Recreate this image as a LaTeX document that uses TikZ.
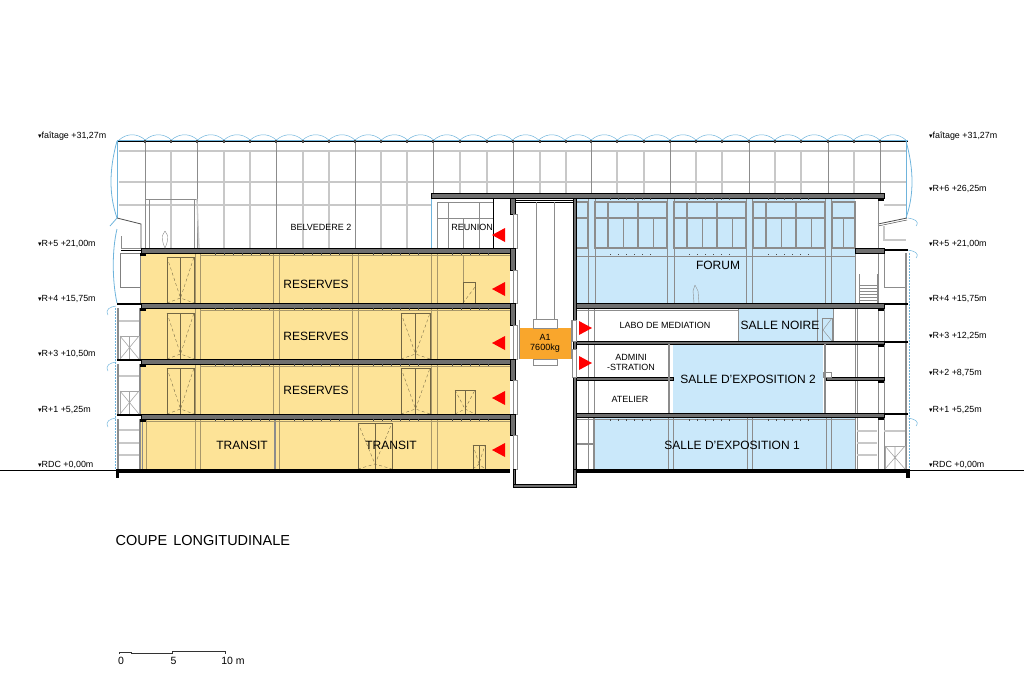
\documentclass[tikz,border=0pt]{standalone}
\usepackage{fontspec}
\setmainfont{Liberation Sans}
\newfontfamily\symfont{DejaVu Sans}
\definecolor{reserve}{HTML}{FDE397}
\definecolor{expo}{HTML}{CAE8FA}
\definecolor{lift}{HTML}{F9A62C}
\definecolor{slabgrey}{HTML}{6F6F6F}
\definecolor{framegrey}{HTML}{C8C8C8}
\definecolor{postgrey}{HTML}{8C8C8C}
\definecolor{woodline}{HTML}{A8976A}
\definecolor{glazing}{HTML}{6FB4DC}
\newcommand{\lvl}{{\symfont\fontsize{7}{7}\selectfont ▾}}
\newcommand{\doorbox}[4]{%
  \draw[doorline] (#1,#2) rectangle (#3,#4);
  \draw[doorswing] (#1,#2) -- ({(#1+#3)/2},{#4-5}) -- (#3,#2);
  \draw[doorswing] (#1,#4) -- ({(#1+#3)/2},{#4-5}) -- (#3,#4);
  \draw[doorline,line width=0.4pt] ({(#1+#3)/2},#2) -- ({(#1+#3)/2},#4);
}
\newcommand{\crossbox}[4]{%
  \draw[crossline] (#1,#2) rectangle (#3,#4);
  \draw[crossline] (#1,#2) -- (#3,#4) (#1,#4) -- (#3,#2) ({(#1+#3)/2},#2) -- ({(#1+#3)/2},#4);
}
\begin{document}
\begin{tikzpicture}[x=1pt,y=-1pt,
  slab/.style={fill=slabgrey,draw=black,line width=0.5pt},
  mullion/.style={draw=framegrey,line width=1.3pt},
  post/.style={draw=postgrey,line width=0.9pt},
  frameline/.style={draw=postgrey,line width=1.6pt},
  wood/.style={draw=woodline,line width=0.8pt},
  doorline/.style={draw=black!55!reserve,line width=0.8pt},
  doorswing/.style={draw=black!55!reserve,line width=0.35pt,dash pattern=on 3pt off 2.5pt},
  crossline/.style={draw=black!35,line width=0.6pt},
  wall/.style={fill=slabgrey,draw=black,line width=0.4pt},
  glass/.style={draw=glazing,line width=0.5pt},
  arrowred/.style={fill=red,draw=none},
  room/.style={font=\fontsize{12}{14}\selectfont,text=black,inner sep=0pt},
  smallroom/.style={font=\fontsize{9}{10}\selectfont,text=black,inner sep=0pt,align=center},
  level/.style={font=\fontsize{8.9}{10}\selectfont,text=black,inner sep=0pt,anchor=west}]

\useasboundingbox (0,0) rectangle (1024,675);

% colour fields
\foreach \ya/\yb in {253/303,308/359,364/414,419/469}
  \fill[reserve] (141,\ya) rectangle (510,\yb);
\fill[expo] (576,198) rectangle (855,303);
\fill[expo] (738,308) rectangle (833,341);
\fill[expo] (673,344) rectangle (823,413);
\fill[expo] (594,417) rectangle (855,469);
\fill[lift] (519,328) rectangle (571,359);

% glazed hall
\foreach \y in {151,182,205}
  \draw[mullion] (119,\y) -- (431,\y);
\foreach \y in {151,182}
  \draw[mullion] (431,\y) -- (906,\y);
\draw[mullion] (884,205) -- (906,205);
\foreach \x in {171,224,250,303,329,381,407}
  \draw[mullion] (\x,151) -- (\x,248);
\foreach \x in {460,487,540,566,617,644,696,722,775,801,854}
  \draw[mullion] (\x,151) -- (\x,193);
\foreach \x in {145,197,276,355,433,513,591,670,749,828,880}
  \draw[post] (\x,140) -- (\x,193);
\foreach \x in {145,197,276,355}
  \draw[post] (\x,193) -- (\x,248);
\draw[post] (145,199) -- (197,199) (149,199) -- (149,248) (194,199) -- (194,248);
\draw[mullion] (197,199) -- (199,248);

% roof
\draw[glass,line width=0.9pt] (117,140) -- (908,140);
\draw[line width=0.5pt] (117,141) -- (908,141);
\foreach \i in {0,...,29} {
  \pgfmathsetmacro{\xa}{119+26.23*\i}
  \pgfmathsetmacro{\xb}{\xa+26.23}
  \draw[glass] (\xa,140) .. controls (\xa+8,133) and (\xb-8,133) .. (\xb,140);
}
\foreach \x in {145,171,197,224,250,276,303,329,355,381,407,433,460,487,513,540,566,591,617,644,670,696,722,749,775,801,828,854,880}
  \fill[black!70] (\x-0.8,140) rectangle (\x+0.8,143);

% side glazing
\draw[glass,line width=0.8pt] (117,141) .. controls (109,170) and (109,195) .. (117,218);
\draw[glass,line width=0.8pt] (906,141) .. controls (914,170) and (914,195) .. (906,218);
\draw[glass,line width=0.8pt] (117,229) .. controls (112,250) and (112,280) .. (117,303);
\draw[glass,line width=0.8pt] (117,140) -- (117,218);
\draw[glass,line width=0.8pt] (906,140) -- (906,218);
\foreach \y in {306,362,418}
  \draw[glass] (116,\y) .. controls (110,\y+1) and (105,\y+3) .. (108,\y+9);
\foreach \y in {218,250,418}
  \draw[glass] (908,\y) .. controls (914,\y+1) and (920,\y+3) .. (916,\y+8);
\draw[glass,line width=1pt,dash pattern=on 2pt off 1pt] (115.5,308) -- (115.5,469);
\draw[glass,line width=1pt,dash pattern=on 2pt off 1pt] (909,253) -- (909,469);

% left bay
\draw[line width=0.8pt,black!70] (117,218) -- (141,224) -- (141,248);
\draw[glass,line width=0.8pt] (110,226) -- (117,218);
\draw[post] (121,236) -- (121,248) -- (141,248);
\draw[line width=0.9pt] (121,250) -- (141,250);
\draw[line width=0.3pt,black!50] (120,253) rectangle (140,287);
\draw[line width=0.3pt,black!50] (140,253) -- (140,303);
\foreach \y in {321,376,430,443,455}
  \draw[mullion] (119,\y) -- (140,\y);
\foreach \x in {118,140} {
  \draw[post,line width=1.2pt] (\x,308) -- (\x,359);
  \draw[post,line width=1.2pt] (\x,364) -- (\x,414);
  \draw[post,line width=1.2pt] (\x,419) -- (\x,469);
}
\crossbox{120}{336}{139}{359}
\crossbox{120}{391}{139}{414}

% right bay
\draw[line width=0.8pt,black!70] (878,224) -- (907,218);
\draw[line width=0.5pt,black!70] (878,226) -- (907,220);
\draw[mullion] (884,226) -- (884,240) -- (906,240);
\draw[post] (878,198) -- (878,469);
\draw[post] (884,253) -- (884,287) -- (905,287);
\draw[post,line width=0.5pt] (855,253) -- (855,303);
\draw[post,line width=0.5pt] (859,274) -- (859,303) (877,274) -- (877,303);
\foreach \y in {285,288,...,303}
  \draw[post,line width=0.6pt] (859,\y) -- (877,\y);
\foreach \x in {855,857} {
  \draw[post] (\x,308) -- (\x,341);
  \draw[post] (\x,344) -- (\x,377);
  \draw[post] (\x,380) -- (\x,413);
  \draw[post] (\x,417) -- (\x,469);
}
\draw[post] (884,308) -- (884,469);
\draw[post,line width=1.3pt] (906,253) -- (906,469);
\foreach \y in {431,443,455}
  \draw[mullion] (857,\y) -- (877,\y);
\draw[mullion] (884,431) -- (905,431);
\crossbox{885}{446}{905}{469}
\draw[frameline,line width=1pt] (833,308) -- (833,341);
\draw[post] (822,318) rectangle (832,341);
\draw[post,line width=0.4pt] (832,318) -- (823,330) -- (832,341);
\draw[post] (817,308) -- (817,341);
\draw[post] (738,308) -- (738,341);

% reserve bays
\foreach \ya/\yb in {253/303,308/359,364/414} {
  \draw[wood] (195,\ya) -- (195,\yb) (200,\ya) -- (200,\yb);
  \draw[wood] (273,\ya) -- (273,\yb) (279,\ya) -- (279,\yb);
  \draw[wood] (352,\ya) -- (352,\yb) (358,\ya) -- (358,\yb);
  \draw[wood] (431,\ya) -- (431,\yb) (437,\ya) -- (437,\yb);
  \draw[wood] (200,\ya+2) -- (510,\ya+2);
}
\draw[wood] (146,419) -- (146,469);
\draw[wood] (195,419) -- (195,469) (200,419) -- (200,469);
\draw[post,line width=1.5pt] (275,419) -- (275,469);
\draw[wood] (279,419) -- (279,469);
\draw[wood] (431,419) -- (431,469) (437,419) -- (437,469);
\draw[post,line width=1pt] (142.5,419) -- (142.5,469);
\draw[wood] (146,421) -- (510,421);
\doorbox{167}{257}{194}{303}
\doorbox{167}{313}{194}{359}
\doorbox{167}{368}{194}{414}
\doorbox{401}{313}{430}{359}
\doorbox{401}{368}{430}{414}
\doorbox{358}{423}{392}{469}
\doorbox{455}{390}{475}{414}
\doorbox{473}{445}{485}{469}
\draw[doorline] (463,282) rectangle (475,303);
\draw[doorswing] (463,303) -- (475,287);
\draw[wood] (463,256) -- (463,282);

% forum windows
\foreach \xa/\xb in {576/588,595/667,674/746,753/825,832/855} {
  \draw[frameline,fill=expo] (\xa,202) rectangle (\xb,248);
  \draw[frameline] (\xa,218) -- (\xb,218);
}
\foreach \x in {595,674,753} {
  \foreach \d in {13,43}
    \draw[frameline] (\x+\d,202) -- (\x+\d,248);
  \foreach \d in {28,58}
    \draw[post] (\x+\d,218) -- (\x+\d,248);
}
\draw[post] (843,218) -- (843,248);
\foreach \x in {588,595,667,674,746,752,825,831}
  \draw[post,line width=0.6pt] (\x,198) -- (\x,303);
\draw[post,line width=0.6pt] (576,256) -- (855,256);
\foreach \x in {588,594,668,673,747,752,826,831} {
  \draw[post,line width=0.6pt] (\x,417) -- (\x,469);
}
\foreach \x in {588,594} {
  \draw[post,line width=0.6pt] (\x,308) -- (\x,341);
  \draw[post,line width=0.6pt] (\x,344) -- (\x,377);
  \draw[post,line width=0.6pt] (\x,380) -- (\x,413);
}
\draw[post,line width=0.6pt] (576,419) -- (855,419);
\draw[post,line width=0.6pt] (576,310) -- (738,310);
\draw[post,line width=1.4pt] (594,417) -- (594,469);

% reunion
\draw[post] (437,202) -- (437,248);
\draw[glass] (431,198) -- (431,248);
\draw[post] (448,202) -- (448,248) (479,202) -- (479,248);
\draw[post,line width=0.6pt] (463,218) -- (463,248);
\draw[post] (437,218) -- (494,218);
\draw[line width=0.8pt] (493.5,198) -- (493.5,248);
\draw[post,line width=0.6pt] (437,202) -- (493,202);

% slabs
\foreach \xa/\xb/\ya/\yb in {431/884/193/198,141/510/248/253,141/510/303/308,141/510/359/364,141/510/414/419,576/884/303/308,855/884/248/253,576/884/341/344,576/673/377/380,826/884/377/380,576/884/413/417}
  \draw[slab] (\xa,\ya) rectangle (\xb,\yb);
\foreach \xa/\xb/\y in {884/908/250,884/908/304,884/908/342,884/908/414,117/141/304,117/141/360,117/141/415}
  \draw[line width=1.2pt] (\xa,\y) -- (\xb,\y);
\foreach \xa/\y in {140/253,140/308,140/364,140/419,878/198,878/308,878/344,878/380,878/417}
  \fill[black] (\xa,\y) rectangle (\xa+6,\y+3);
\draw[frameline] (576,444) -- (594,444);
\draw[frameline,line width=2pt] (669,344) -- (669,413);
\draw[frameline,line width=2pt] (825,344) -- (825,413);
\draw[post] (823,372) rectangle (831,377);

% dots under the slabs
\foreach \ya in {253,308,364,419} {
  \foreach \x in {215,224,...,269} \fill[black!70] (\x,\ya) rectangle (\x+0.8,\ya+1.5);
  \foreach \x in {294,303,...,345} \fill[black!70] (\x,\ya) rectangle (\x+0.8,\ya+1.5);
  \foreach \x in {373,382,...,420} \fill[black!70] (\x,\ya) rectangle (\x+0.8,\ya+1.5);
  \foreach \x in {452,461,...,490} \fill[black!70] (\x,\ya) rectangle (\x+0.8,\ya+1.5);
}
\foreach \x in {610,618,...,652,689,697,...,730,768,776,...,810} {
  \fill[black!70] (\x,198) rectangle (\x+0.8,199.5);
  \fill[black!70] (\x,253.5) rectangle (\x+0.8,255);
  \fill[black!70] (\x,419) rectangle (\x+0.8,420.5);
}

% core
\foreach \ya/\yb/\yc in {198/214/248,248/270/303,303/325/359,359/380/414,414/435/469} {
  \draw[wall] (510,\ya) rectangle (515,\yb);
  \draw[post,line width=0.5pt,fill=white] (513,\yb) rectangle (517,\yc);
}
\draw[wall] (573,198) rectangle (576.5,320);
\draw[wall] (573,341) rectangle (576.5,349);
\draw[wall] (573,377) rectangle (576.5,469);
\draw[post,line width=0.5pt,fill=white] (572,320) rectangle (576,341);
\draw[post,line width=0.5pt,fill=white] (572,349) rectangle (576,377);
\draw[line width=0.7pt] (515,200) -- (573,200) (515,202) -- (573,202);
\draw[post,line width=0.5pt] (536,202) -- (536,319) (554,202) -- (554,319);
\draw[post,line width=0.5pt] (533,319) rectangle (557,328);
\draw[post,line width=0.5pt] (533,359) rectangle (557,365);
\draw[post,line width=0.5pt] (519,320) -- (519,359);
\draw[post,line width=0.5pt] (571,320) -- (571,359);
\draw[wall] (513,469) rectangle (515,487);
\draw[wall] (573,469) rectangle (576.5,487);
\draw[wall] (513,484.5) rectangle (576.5,487);

% ground
\draw[line width=0.7pt] (0,470) -- (117,470) (908,470) -- (1024,470);
\fill[black] (116,469) rectangle (510,472.5);
\fill[black] (576,469) rectangle (909,472.5);
\fill[black] (115.5,469) rectangle (118.5,478);
\fill[black] (906,469) rectangle (909.5,478);

% figures
\draw[post,line width=0.4pt,fill=white] (165,231) .. controls (160,236) and (163,244) .. (165,248) .. controls (167,244) and (170,236) .. (165,231);
\draw[post,line width=0.4pt] (695,285) -- (693,291) -- (694,303) (695,285) -- (698,291) -- (699,303);

% red marks
\foreach \y in {235,289,343,398,450}
  \fill[arrowred] (492,\y) -- (505,\y-7) -- (505,\y+7) -- cycle;
\foreach \y in {328,363}
  \fill[arrowred] (592,\y) -- (579,\y-7) -- (579,\y+7) -- cycle;

% room names
\node[room] (resA) at (316,284) {RESERVES};
\node[room] (resB) at (316,336) {RESERVES};
\node[room] (resC) at (316,390) {RESERVES};
\node[room] (transitA) at (242,445) {TRANSIT};
\node[room] (transitB) at (391,445) {TRANSIT};
\node[room] (forum) at (718,265) {FORUM};
\node[room] (noire) at (780,325) {SALLE NOIRE};
\node[room] (expoB) at (748,379) {SALLE D'EXPOSITION 2};
\node[room] (expoA) at (732,445) {SALLE D'EXPOSITION 1};
\node[smallroom] (belv) at (321,227) {BELVEDERE 2};
\node[smallroom] (reunion) at (472,227) {REUNION};
\node[smallroom] (labo) at (665,325) {LABO DE MEDIATION};
\node[smallroom] (admin) at (631,362) {ADMINI\\-STRATION};
\node[smallroom] (atelier) at (630,399.5) {ATELIER};
\node[smallroom] (liftname) at (545,343.5) {A1\\7600kg};

% levels
\node[level] (lfait) at (38,136) {\lvl faîtage +31,27m};
\node[level] (lfive) at (38,244) {\lvl R+5 +21,00m};
\node[level] (lfour) at (38,299) {\lvl R+4 +15,75m};
\node[level] (lthree) at (38,354) {\lvl R+3 +10,50m};
\node[level] (lone) at (38,409.5) {\lvl R+1 +5,25m};
\node[level] (lrdc) at (38,465) {\lvl RDC +0,00m};
\node[level] (rfait) at (929,136) {\lvl faîtage +31,27m};
\node[level] (rsix) at (929,189) {\lvl R+6 +26,25m};
\node[level] (rfive) at (929,244) {\lvl R+5 +21,00m};
\node[level] (rfour) at (929,299) {\lvl R+4 +15,75m};
\node[level] (rthree) at (929,336) {\lvl R+3 +12,25m};
\node[level] (rtwo) at (929,373) {\lvl R+2 +8,75m};
\node[level] (rone) at (929,410) {\lvl R+1 +5,25m};
\node[level] (rrdc) at (929,465) {\lvl RDC +0,00m};

% title and scale
\node[room,font=\fontsize{14.5}{16}\selectfont,anchor=west] (title) at (115.5,540.5) {COUPE\hspace{2pt} LONGITUDINALE};
\draw[line width=0.6pt,black!80] (119.5,654) -- (119.5,652) -- (131,652) -- (131,653.5) -- (172,653.5) -- (172,651.5) -- (225,651.5) -- (225,654);
\node[smallroom,font=\fontsize{10.5}{12}\selectfont] (scaleA) at (121,660.5) {0};
\node[smallroom,font=\fontsize{10.5}{12}\selectfont] (scaleB) at (173.5,660.5) {5};
\node[smallroom,font=\fontsize{10.5}{12}\selectfont] (scaleC) at (233,660.5) {10 m};

\end{tikzpicture}
\end{document}
